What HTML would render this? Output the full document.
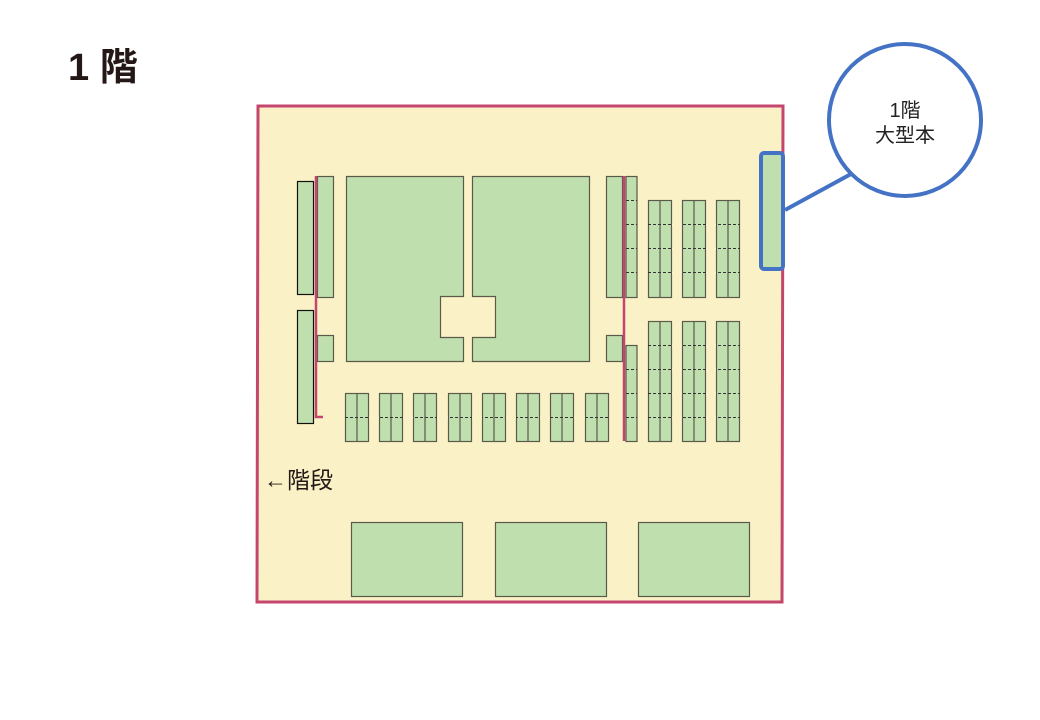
<!DOCTYPE html>
<html><head><meta charset="utf-8"><style>
html,body{margin:0;padding:0;background:#fff;}
svg{display:block;}
text{font-family:"Liberation Sans","Noto Sans CJK JP",sans-serif;}
</style></head><body>
<svg width="1040" height="720" viewBox="0 0 1040 720" xmlns="http://www.w3.org/2000/svg">
<text x="68" y="80" font-size="38" font-weight="bold" fill="#231815">1 階</text>
<polygon points="258,106 783,106 782,602 257,602" fill="#faf2c6" stroke="#c4466e" stroke-width="3"/>
<g fill="#c0dfae" stroke="#5a5a4a" stroke-width="1.2">
<rect x="297.5" y="181.5" width="16" height="113" stroke="#111"/>
<rect x="297.5" y="310.5" width="16" height="113" stroke="#111"/>
<rect x="317.5" y="176.5" width="16" height="121"/>
<rect x="317.5" y="335.5" width="16" height="26"/>
<path d="M346.5,176.5 H463.5 V296.5 H440.5 V337.5 H463.5 V361.5 H346.5 Z"/>
<path d="M472.5,176.5 H589.5 V361.5 H472.5 V337.5 H495.5 V296.5 H472.5 Z"/>
<rect x="606.5" y="176.5" width="16" height="121"/>
<rect x="606.5" y="335.5" width="16" height="26"/>
<rect x="626" y="176.5" width="11" height="121"/>
<rect x="626" y="345.5" width="11" height="96"/>
<rect x="351.5" y="522.5" width="111" height="74"/>
<rect x="495.5" y="522.5" width="111" height="74"/>
<rect x="638.5" y="522.5" width="111" height="74"/>
</g>
<g stroke="#333" stroke-width="1" stroke-dasharray="3,2">
<line x1="626" y1="200.5" x2="637" y2="200.5"/><line x1="626" y1="224.5" x2="637" y2="224.5"/>
<line x1="626" y1="248.5" x2="637" y2="248.5"/><line x1="626" y1="272.5" x2="637" y2="272.5"/>
<line x1="626" y1="369.5" x2="637" y2="369.5"/><line x1="626" y1="393.5" x2="637" y2="393.5"/>
<line x1="626" y1="417.5" x2="637" y2="417.5"/>
</g>
<g fill="#c0dfae" stroke="#5a5a4a" stroke-width="1.2">
<rect x="345.5" y="393.5" width="23" height="48"/><rect x="379.5" y="393.5" width="23" height="48"/>
<rect x="413.5" y="393.5" width="23" height="48"/><rect x="448.5" y="393.5" width="23" height="48"/>
<rect x="482.5" y="393.5" width="23" height="48"/><rect x="516.5" y="393.5" width="23" height="48"/>
<rect x="550.5" y="393.5" width="23" height="48"/><rect x="585.5" y="393.5" width="23" height="48"/>
<rect x="648.5" y="200.5" width="23" height="97"/><rect x="682.5" y="200.5" width="23" height="97"/><rect x="716.5" y="200.5" width="23" height="97"/>
<rect x="648.5" y="321.5" width="23" height="120"/><rect x="682.5" y="321.5" width="23" height="120"/><rect x="716.5" y="321.5" width="23" height="120"/>
</g>
<g stroke="#5a5a4a" stroke-width="1.2">
<line x1="357" y1="393" x2="357" y2="442"/><line x1="391" y1="393" x2="391" y2="442"/>
<line x1="425" y1="393" x2="425" y2="442"/><line x1="460" y1="393" x2="460" y2="442"/>
<line x1="494" y1="393" x2="494" y2="442"/><line x1="528" y1="393" x2="528" y2="442"/>
<line x1="562" y1="393" x2="562" y2="442"/><line x1="597" y1="393" x2="597" y2="442"/>
<line x1="660" y1="200" x2="660" y2="298"/><line x1="694" y1="200" x2="694" y2="298"/><line x1="728" y1="200" x2="728" y2="298"/>
<line x1="660" y1="321" x2="660" y2="442"/><line x1="694" y1="321" x2="694" y2="442"/><line x1="728" y1="321" x2="728" y2="442"/>
</g>
<g stroke="#333" stroke-width="1" stroke-dasharray="3,2">
<line x1="345" y1="417.5" x2="609" y2="417.5"/>
<line x1="648" y1="224.5" x2="740" y2="224.5"/><line x1="648" y1="248.5" x2="740" y2="248.5"/><line x1="648" y1="272.5" x2="740" y2="272.5"/>
<line x1="648" y1="345.5" x2="740" y2="345.5"/><line x1="648" y1="369.5" x2="740" y2="369.5"/>
<line x1="648" y1="393.5" x2="740" y2="393.5"/><line x1="648" y1="417.5" x2="740" y2="417.5"/>
</g>
<g stroke="#faf2c6" stroke-width="2">
<line x1="369" y1="417.5" x2="379" y2="417.5"/><line x1="403" y1="417.5" x2="413" y2="417.5"/>
<line x1="437" y1="417.5" x2="448" y2="417.5"/><line x1="472" y1="417.5" x2="482" y2="417.5"/>
<line x1="506" y1="417.5" x2="516" y2="417.5"/><line x1="540" y1="417.5" x2="550" y2="417.5"/>
<line x1="574" y1="417.5" x2="585" y2="417.5"/>
<line x1="672" y1="224.5" x2="682" y2="224.5"/><line x1="706" y1="224.5" x2="716" y2="224.5"/>
<line x1="672" y1="248.5" x2="682" y2="248.5"/><line x1="706" y1="248.5" x2="716" y2="248.5"/>
<line x1="672" y1="272.5" x2="682" y2="272.5"/><line x1="706" y1="272.5" x2="716" y2="272.5"/>
<line x1="672" y1="345.5" x2="682" y2="345.5"/><line x1="706" y1="345.5" x2="716" y2="345.5"/>
<line x1="672" y1="369.5" x2="682" y2="369.5"/><line x1="706" y1="369.5" x2="716" y2="369.5"/>
<line x1="672" y1="393.5" x2="682" y2="393.5"/><line x1="706" y1="393.5" x2="716" y2="393.5"/>
<line x1="672" y1="417.5" x2="682" y2="417.5"/><line x1="706" y1="417.5" x2="716" y2="417.5"/>
</g>
<polyline points="316,176 316,417 323,417" fill="none" stroke="#c4466e" stroke-width="2.5"/>
<line x1="624" y1="176" x2="624" y2="441" stroke="#c4466e" stroke-width="2.5"/>
<text x="264" y="488" font-size="23" fill="#231815">←階段</text>
<rect x="761" y="153" width="22" height="116" rx="3" fill="#c0dfae" stroke="#4472c4" stroke-width="4"/>
<line x1="785" y1="210" x2="851" y2="174" stroke="#4472c4" stroke-width="4"/>
<circle cx="905" cy="120" r="76" fill="#fff" stroke="#4472c4" stroke-width="4"/>
<text x="905" y="117" font-size="20" text-anchor="middle" fill="#222">1階</text>
<text x="905" y="142" font-size="20" text-anchor="middle" fill="#222">大型本</text>
</svg>
</body></html>
